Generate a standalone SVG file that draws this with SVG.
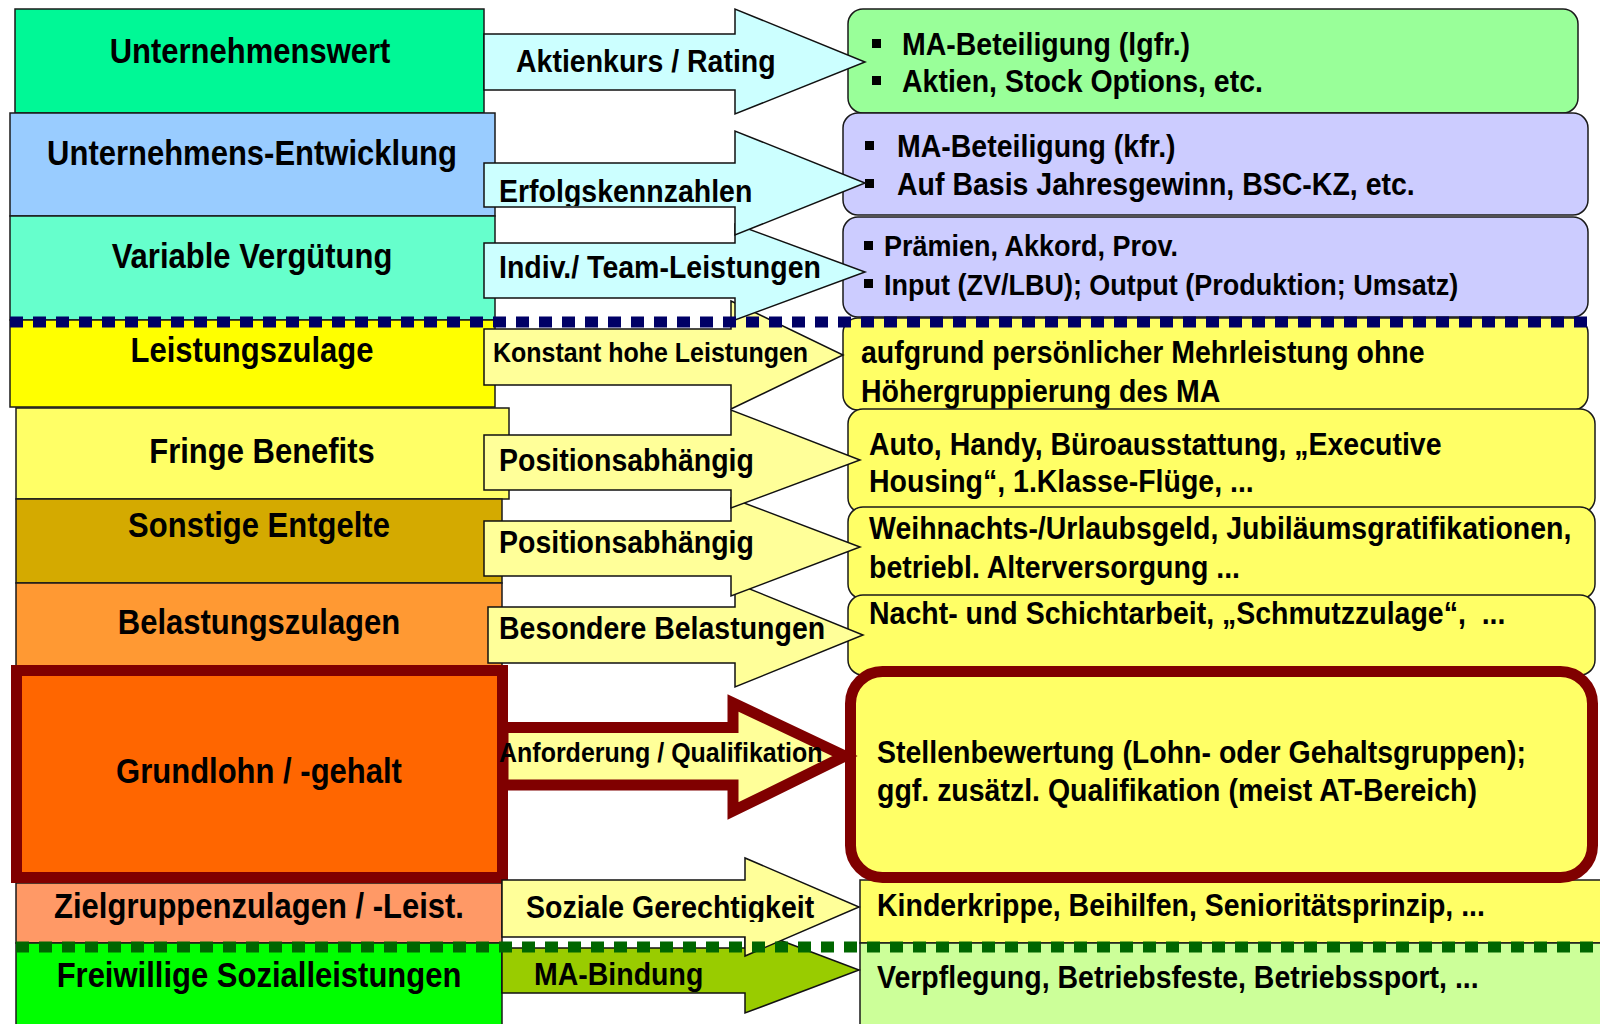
<svg xmlns="http://www.w3.org/2000/svg" width="1600" height="1024" viewBox="0 0 1600 1024">
<defs>
<style>
text { font-family: "Liberation Sans", Arial, sans-serif; font-weight: bold; fill: #000; }
.lb { font-size: 31px; text-anchor: middle; }
.al { font-size: 28.5px; }
.as { font-size: 25px; }
.rt { font-size: 28.5px; }
.rs { font-size: 27px; }
.box { stroke: #1a1a1a; stroke-width: 1.5; }
.arr { stroke: #111; stroke-width: 1.5; stroke-linejoin: miter; }
.thick { stroke: #800000; stroke-width: 11; stroke-linejoin: miter; }
.bul { fill: #000; }
.dots { fill: none; stroke-width: 11; stroke-dasharray: 13 10; }
</style>
<clipPath id="clipErf"><rect x="480" y="150" width="400" height="56"/></clipPath>
<clipPath id="clipSoz"><rect x="500" y="870" width="400" height="52"/></clipPath>
</defs>
<rect x="0" y="0" width="1600" height="1024" fill="#ffffff"/>

<g id="left-unternehmenswert"><rect class="box" x="15" y="9" width="469" height="104" fill="#00F896"/><text class="lb" transform="matrix(1 0 0 1.12 250 63)">Unternehmenswert</text></g>
<g id="left-entwicklung"><rect class="box" x="10" y="113" width="485" height="103" fill="#99CCFF"/><text class="lb" transform="matrix(1 0 0 1.12 252 165)">Unternehmens-Entwicklung</text></g>
<g id="left-variabel"><rect class="box" x="10" y="216" width="485" height="104" fill="#66FFCC"/><text class="lb" transform="matrix(1 0 0 1.12 252 268)">Variable Vergütung</text></g>
<g id="left-leistungszulage"><rect class="box" x="10" y="320" width="485" height="87" fill="#FFFF00"/><text class="lb" transform="matrix(1 0 0 1.12 252 362)">Leistungszulage</text></g>
<g id="left-fringe"><rect class="box" x="16" y="408" width="493" height="91" fill="#FFFF66"/><text class="lb" transform="matrix(1 0 0 1.12 262 463)">Fringe Benefits</text></g>
<g id="left-sonstige"><rect class="box" x="16" y="499" width="486" height="84" fill="#D4AA00"/><text class="lb" transform="matrix(1 0 0 1.12 259 537)">Sonstige Entgelte</text></g>
<g id="left-belastung"><rect class="box" x="16" y="583" width="486" height="83" fill="#FF9933"/><text class="lb" transform="matrix(1 0 0 1.12 259 634)">Belastungszulagen</text></g>
<g id="left-zielgruppen"><rect class="box" x="16" y="883" width="486" height="60" fill="#FF9966"/><text class="lb" transform="matrix(1 0 0 1.12 259 918)">Zielgruppenzulagen / -Leist.</text></g>
<g id="left-freiwillig"><rect class="box" x="16" y="943" width="486" height="90" fill="#00FF00"/><text class="lb" transform="matrix(1 0 0 1.12 259 987)">Freiwillige Sozialleistungen</text></g>
<g id="left-grundlohn"><rect class="thick" x="16.5" y="670.5" width="486" height="207" fill="#FF6600"/><text class="lb" transform="matrix(1 0 0 1.12 259 783)">Grundlohn / -gehalt</text></g>

<g id="right-beteiligung-lgfr"><rect class="box" x="848" y="9" width="730" height="104" rx="15" fill="#99FF99"/><rect class="bul" x="872" y="39" width="9" height="9"/><text class="rt" transform="matrix(1 0 0 1.12 902 55)">MA-Beteiligung (lgfr.)</text><rect class="bul" x="872" y="76" width="9" height="9"/><text class="rt" transform="matrix(1 0 0 1.12 902 92)">Aktien, Stock Options, etc.</text></g>
<g id="right-beteiligung-kfr"><rect class="box" x="843" y="113" width="745" height="102" rx="15" fill="#CCCCFF"/><rect class="bul" x="865" y="141" width="9" height="9"/><text class="rt" transform="matrix(1 0 0 1.12 897 157)">MA-Beteiligung (kfr.)</text><rect class="bul" x="865" y="179" width="9" height="9"/><text class="rt" transform="matrix(1 0 0 1.12 897 195)">Auf Basis Jahresgewinn, BSC-KZ, etc.</text></g>
<g id="right-praemien"><rect class="box" x="843" y="217" width="745" height="100" rx="15" fill="#CCCCFF"/><rect class="bul" x="864" y="241" width="9" height="9"/><text class="rs" transform="matrix(1 0 0 1.12 884 256)">Prämien, Akkord, Prov.</text><rect class="bul" x="864" y="279" width="9" height="9"/><text class="rs" transform="matrix(1 0 0 1.12 884 295)">Input (ZV/LBU); Output (Produktion; Umsatz)</text></g>
<g id="right-mehrleistung"><rect class="box" x="843" y="318" width="745" height="92" rx="15" fill="#FFFF66"/><text class="rt" transform="matrix(1 0 0 1.12 861 363)">aufgrund persönlicher Mehrleistung ohne</text><text class="rt" transform="matrix(1 0 0 1.12 861 402)">Höhergruppierung des MA</text></g>
<g id="right-auto"><rect class="box" x="848" y="409" width="747" height="104" rx="15" fill="#FFFF66"/><text class="rt" transform="matrix(1 0 0 1.12 869 455)">Auto, Handy, Büroausstattung, „Executive</text><text class="rt" transform="matrix(1 0 0 1.12 869 492)">Housing“, 1.Klasse-Flüge, ...</text></g>
<g id="right-weihnacht"><rect class="box" x="848" y="507" width="747" height="92" rx="15" fill="#FFFF66"/><text class="rt" transform="matrix(1 0 0 1.12 869 539)">Weihnachts-/Urlaubsgeld, Jubiläumsgratifikationen,</text><text class="rt" transform="matrix(1 0 0 1.12 869 578)">betriebl. Alterversorgung ...</text></g>
<g id="right-nacht"><rect class="box" x="848" y="595" width="747" height="80" rx="15" fill="#FFFF66"/><text class="rt" xml:space="preserve" transform="matrix(1 0 0 1.12 869 624)">Nacht- und Schichtarbeit, „Schmutzzulage“,  ...</text></g>
<g id="right-kinder"><rect class="box" x="860" y="880" width="745" height="63" fill="#FFFF66"/><text class="rt" transform="matrix(1 0 0 1.12 877 916)">Kinderkrippe, Beihilfen, Senioritätsprinzip, ...</text></g>
<g id="right-verpflegung"><rect class="box" x="860" y="943" width="745" height="90" fill="#CCFF99"/><text class="rt" transform="matrix(1 0 0 1.12 877 988)">Verpflegung, Betriebsfeste, Betriebssport, ...</text></g>
<g id="right-stellen"><rect class="thick" x="850.5" y="671.5" width="742" height="206" rx="32" fill="#FFFF66"/><text class="rt" transform="matrix(1 0 0 1.12 877 763)">Stellenbewertung (Lohn- oder Gehaltsgruppen);</text><text class="rt" transform="matrix(1 0 0 1.12 877 801)">ggf. zusätzl. Qualifikation (meist AT-Bereich)</text></g>

<g id="connectors">
<polygon class="arr" fill="#99CC00" points="502,948 745,948 745,927 859,970 745,1013 745,993 502,993"/>
<text class="al" transform="matrix(1 0 0 1.12 534 985)">MA-Bindung</text>
<polygon class="arr" fill="#FFFF99" points="502,880 745,880 745,858 859,907 745,956 745,937 502,937"/>
<g clip-path="url(#clipSoz)"><text class="al" transform="matrix(1 0 0 1.12 526 918)">Soziale Gerechtigkeit</text></g>
<polygon class="thick" fill="#FFFF99" points="503,727.5 733,727.5 733,703 845,756 733,811 733,785 503,785"/>
<text class="as" transform="matrix(1 0 0 1.12 499 762)">Anforderung / Qualifikation</text>
<polygon class="arr" fill="#FFFF99" points="488,607 735,607 735,583 863,635 735,687 735,663 488,663"/>
<text class="al" transform="matrix(1 0 0 1.12 499 639)">Besondere Belastungen</text>
<polygon class="arr" fill="#FFFF99" points="484,521 731,521 731,498 860,547 731,596 731,576 484,576"/>
<text class="al" transform="matrix(1 0 0 1.12 499 553)">Positionsabhängig</text>
<polygon class="arr" fill="#FFFF99" points="484,435 731,435 731,410 860,460 731,508 731,490 484,490"/>
<text class="al" transform="matrix(1 0 0 1.12 499 471)">Positionsabhängig</text>
<polygon class="arr" fill="#FFFF99" points="484,329 731,329 731,301 843,355 731,409 731,385 484,385"/>
<text class="as" transform="matrix(1 0 0 1.12 493 362)">Konstant hohe Leistungen</text>
<polygon class="arr" fill="#CCFFFF" points="484,243 735,243 735,224 865,272 735,320 735,298 484,298"/>
<text class="al" transform="matrix(1 0 0 1.12 499 278)">Indiv./ Team-Leistungen</text>
<polygon class="arr" fill="#CCFFFF" points="484,163 735,163 735,131 865,183 735,235 735,207 484,207"/>
<g clip-path="url(#clipErf)"><text class="al" transform="matrix(1 0 0 1.12 499 202)">Erfolgskennzahlen</text></g>
<polygon class="arr" fill="#CCFFFF" points="484,34 735,34 735,9 865,62 735,114 735,90 484,90"/>
<text class="al" transform="matrix(1 0 0 1.12 516 72)">Aktienkurs / Rating</text>
</g>

<g id="separators">
<path class="dots" stroke="#000066" d="M10 322 H1588"/>
<path class="dots" stroke="#006600" d="M16 947 H1600"/>
</g>
</svg>
